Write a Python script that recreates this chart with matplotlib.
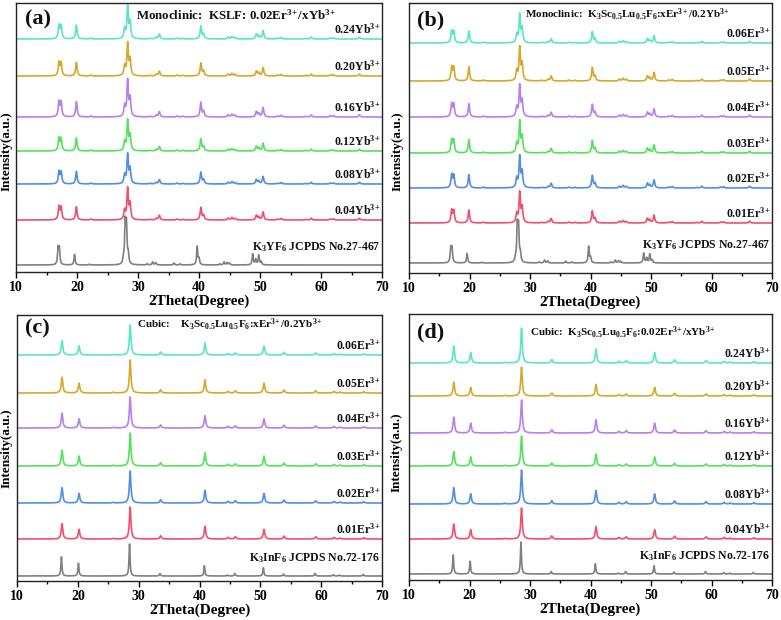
import numpy as np
import matplotlib
matplotlib.use("Agg")
import matplotlib.pyplot as plt

plt.rcParams['font.family'] = ['Liberation Serif', 'DejaVu Serif']
plt.rcParams['font.weight'] = 'bold'
plt.rcParams['mathtext.fontset'] = 'custom'
plt.rcParams['mathtext.rm'] = 'Liberation Serif:bold'
plt.rcParams['mathtext.it'] = 'Liberation Serif:bold'
plt.rcParams['mathtext.bf'] = 'Liberation Serif:bold'
plt.rcParams['mathtext.default'] = 'bf'

# ---------------- data ----------------
two_theta = np.linspace(10, 70, 4000)

# peak lists (2theta, relative intensity)
mono_sample_pos = [17.05, 17.40, 19.90, 22.30, 27.80, 28.30, 28.70, 31.90, 33.00, 33.50,
                   36.40, 37.40, 40.30, 40.75, 44.80, 45.40, 45.90, 49.40, 49.80, 50.50,
                   52.90, 53.50, 57.50, 58.40, 61.50, 62.00, 66.30]
mono_sample_int = [0.42, 0.40, 0.43, 0.03, 0.30, 1.00, 0.50, 0.02, 0.05, 0.15,
                   0.03, 0.02, 0.40, 0.15, 0.06, 0.08, 0.05, 0.15, 0.10, 0.26,
                   0.03, 0.05, 0.02, 0.06, 0.03, 0.04, 0.06]
mono_ref_pos = [16.90, 17.10, 19.60, 22.00, 27.60, 27.90, 28.10, 28.40, 31.50, 32.40,
                32.90, 35.90, 36.90, 39.70, 40.00, 43.40, 44.10, 44.60, 45.00, 48.80,
                49.30, 49.80, 50.20]
mono_ref_int = [0.40, 0.40, 0.27, 0.02, 0.12, 1.00, 0.95, 0.25, 0.03, 0.08,
                0.06, 0.05, 0.03, 0.47, 0.15, 0.03, 0.08, 0.06, 0.05, 0.28,
                0.14, 0.25, 0.08]
cubic_sample_pos = [17.40, 20.20, 25.80, 28.60, 33.60, 40.90, 44.70, 45.90, 50.60, 53.90,
                    59.10, 62.10, 63.10, 67.00]
cubic_sample_int = [0.48, 0.30, 0.02, 1.00, 0.10, 0.40, 0.05, 0.07, 0.30, 0.09,
                    0.07, 0.05, 0.03, 0.04]
cubic_ref_pos = [14.20, 17.30, 20.10, 28.50, 33.50, 40.80, 44.60, 45.80, 50.50, 53.80,
                 59.00, 62.00, 63.00, 66.90]
cubic_ref_int = [0.01, 0.60, 0.40, 1.00, 0.08, 0.32, 0.03, 0.08, 0.26, 0.06,
                 0.08, 0.04, 0.03, 0.05]

colors = ['#808080', '#f04f6e', '#4f8fe6', '#55e25c', '#b681e8', '#d6a82c', '#5ae6c3']

SUP = r'$^{3\!+}$'

labels_a = ['K$_3$YF$_6$ JCPDS No.27-467', '0.04Yb' + SUP, '0.08Yb' + SUP, '0.12Yb' + SUP,
            '0.16Yb' + SUP, '0.20Yb' + SUP, '0.24Yb' + SUP]
heights_a = [39, 31, 29, 30, 36, 32, 32]
offsets_a = [7, 52, 88, 121, 155, 196, 233]

labels_b = ['K$_3$YF$_6$ JCPDS No.27-467', '0.01Er' + SUP, '0.02Er' + SUP, '0.03Er' + SUP,
            '0.04Er' + SUP, '0.05Er' + SUP, '0.06Er' + SUP]
heights_b = [35, 30, 31, 31, 31, 33, 28]
offsets_b = [10, 50, 85, 120, 156, 192, 230]

labels_c = ['K$_3$InF$_6$ JCPDS No.72-176', '0.01Er' + SUP, '0.02Er' + SUP, '0.03Er' + SUP,
            '0.04Er' + SUP, '0.05Er' + SUP, '0.06Er' + SUP]
heights_c = [32, 32, 32, 33, 31, 33, 30]
offsets_c = [5, 42, 78, 115, 153, 188, 226]

labels_d = ['K$_3$InF$_6$ JCPDS No.72-176', '0.04Yb' + SUP, '0.08Yb' + SUP, '0.12Yb' + SUP,
            '0.16Yb' + SUP, '0.20Yb' + SUP, '0.24Yb' + SUP]
heights_d = [32, 31, 34, 30, 33, 29, 35]
offsets_d = [6, 41, 76, 114, 147, 184, 217]

titles = ['Monoclinic:  KSLF: 0.02Er' + SUP + '/xYb' + SUP,
          'Monoclinic:  K$_3$Sc$_{0.5}$Lu$_{0.5}$F$_6$:xEr' + SUP + '/0.2Yb' + SUP,
          'Cubic:    K$_3$Sc$_{0.5}$Lu$_{0.5}$F$_6$:xEr' + SUP + '/0.2Yb' + SUP,
          'Cubic:  K$_3$Sc$_{0.5}$Lu$_{0.5}$F$_6$:0.02Er' + SUP + '/xYb' + SUP]
title_sizes = [9.3, 8, 8, 8]
panel_tags = ['(a)', '(b)', '(c)', '(d)']


def profile(x, pos, inten, w):
    y = np.zeros_like(x)
    for p, h in zip(pos, inten):
        y += h / (1.0 + ((x - p) / w) ** 2)
    return y / max(inten)


mono_s = profile(two_theta, mono_sample_pos, mono_sample_int, 0.14)
mono_r = profile(two_theta, mono_ref_pos, mono_ref_int, 0.11)
cub_s = profile(two_theta, cubic_sample_pos, cubic_sample_int, 0.15)
cub_r = profile(two_theta, cubic_ref_pos, cubic_ref_int, 0.10)

W, H = 781, 620
fig = plt.figure(figsize=(W / 100, H / 100), dpi=100)

# axes boxes in pixels: left, top, right, bottom
boxes = [(16, 3, 382, 272), (409, 3, 772, 273), (17, 315, 382, 581), (409, 314, 772, 580)]
panels = [
    (labels_a, heights_a, offsets_a, mono_s, mono_r),
    (labels_b, heights_b, offsets_b, mono_s, mono_r),
    (labels_c, heights_c, offsets_c, cub_s, cub_r),
    (labels_d, heights_d, offsets_d, cub_s, cub_r),
]
title_pos = [(0.328, 0.955), (0.32, 0.955), (0.329, 0.962), (0.333, 0.93)]
tag_pos = [(0.025, 0.937), (0.022, 0.937), (0.022, 0.95), (0.022, 0.93)]
ylabel_pos = [(-0.008, 0.45), (-0.015, 0.45), (-0.011, 0.5), (-0.017, 0.48)]

for i, (box, (labs, hts, offs, samp, ref)) in enumerate(zip(boxes, panels)):
    l, t, r, b = box
    ax = fig.add_axes([l / W, 1 - b / H, (r - l) / W, (b - t) / H])
    span = b - t
    for j in range(len(labs)):
        curve = ref if j == 0 else samp
        ax.plot(two_theta, offs[j] + hts[j] * curve, color=colors[j], lw=1.2)
        dy = 18 if j == 0 else 10
        ax.text(69.7, offs[j] + dy, labs[j], ha='right', va='center',
                fontsize=8.5, fontweight='bold', color='#111111')
    ax.set_xlim(10, 70)
    ax.set_ylim(0, span)
    ax.set_yticks([])
    ax.set_xticks(np.arange(10, 71, 10))
    ax.set_xticks(np.arange(15, 70, 10), minor=True)
    ax.tick_params(axis='x', which='major', direction='out', length=4, width=1,
                   labelsize=10, pad=2.5)
    ax.tick_params(axis='x', which='minor', direction='out', length=2, width=1)
    for lab in ax.get_xticklabels():
        lab.set_fontweight('bold')
    for s in ax.spines.values():
        s.set_linewidth(1.0)
        s.set_color('#222222')
    ax.set_xlabel('2Theta(Degree)', fontsize=11, fontweight='bold', labelpad=0.5)
    ax.set_ylabel('Intensity(a.u.)', fontsize=9.5, fontweight='bold')
    ax.yaxis.set_label_coords(*ylabel_pos[i])
    ax.text(title_pos[i][0], title_pos[i][1], titles[i], transform=ax.transAxes,
            ha='left', va='center', fontsize=title_sizes[i], fontweight='bold', color='#111111')
    ax.text(tag_pos[i][0], tag_pos[i][1], panel_tags[i], transform=ax.transAxes,
            ha='left', va='center', fontsize=16, fontweight='bold', color='#111111')

fig.savefig('out.png', dpi=100)
